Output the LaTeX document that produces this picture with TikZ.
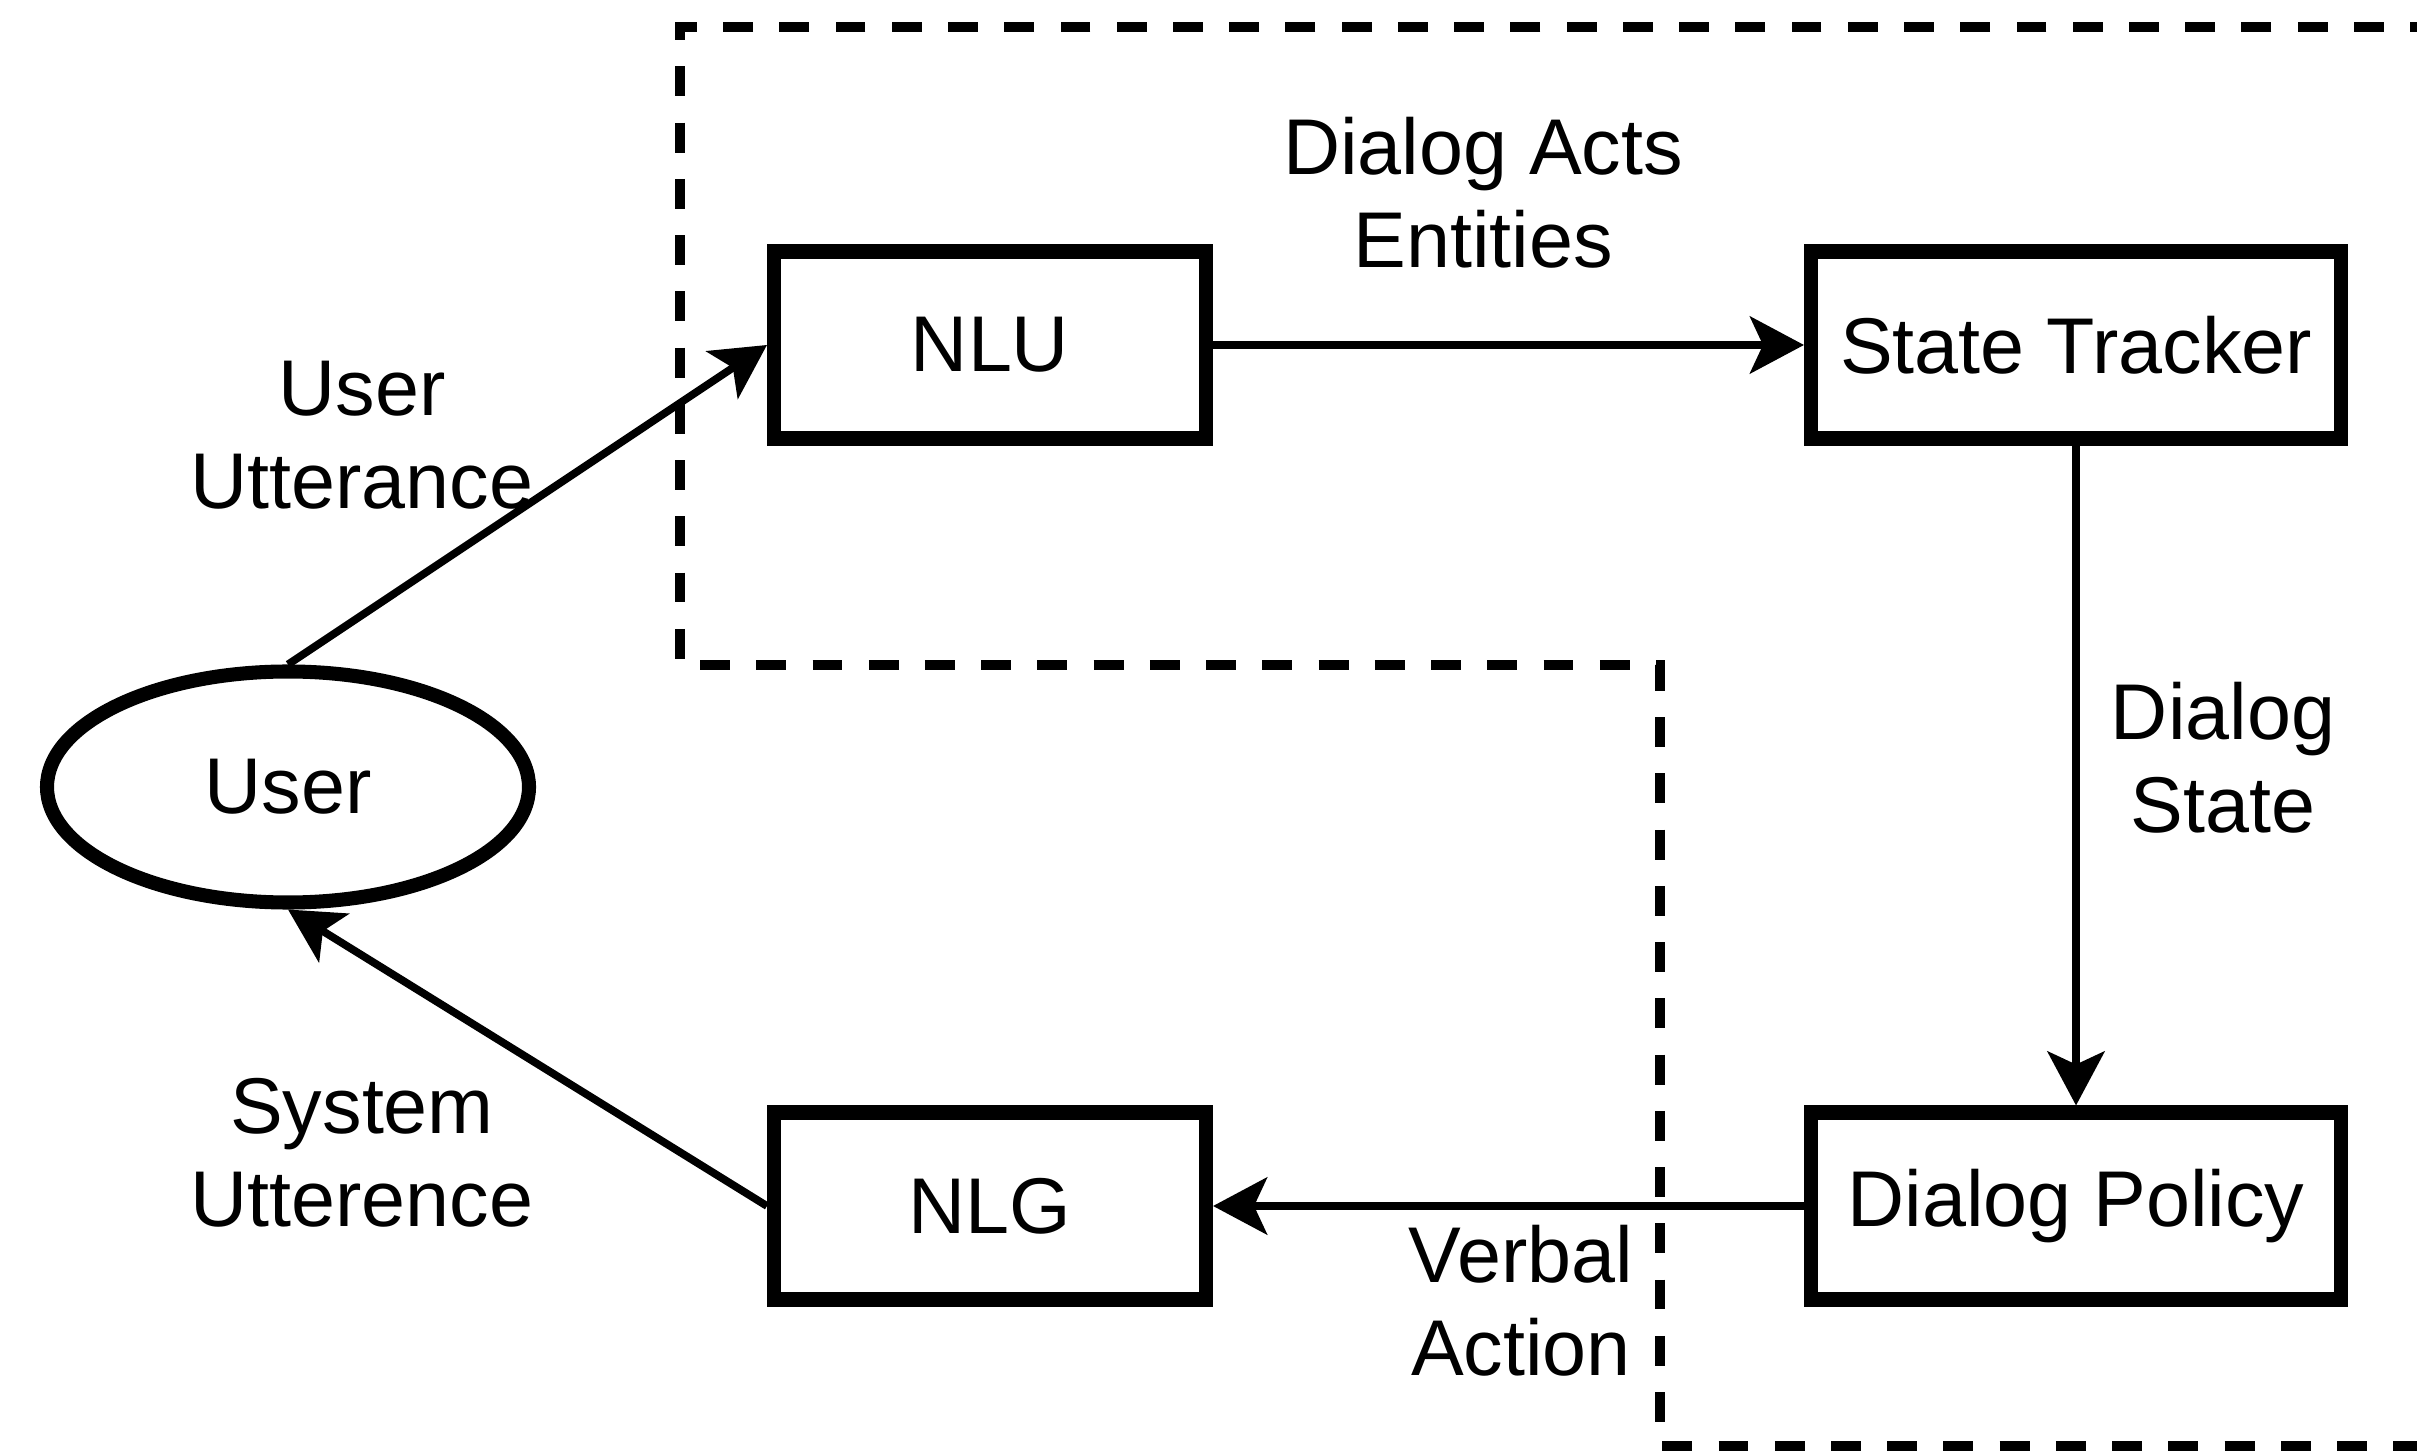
\documentclass[tikz,border=0pt]{standalone}
\usepackage{fontspec}
\setmainfont{Liberation Sans}
\usetikzlibrary{arrows.meta, positioning, shapes.geometric}

\begin{document}
\begin{tikzpicture}[
  font=\fontsize{22.5}{26.5}\selectfont,
  box/.style={draw, line width=4pt, minimum height=1.87cm, inner sep=0pt},
  conn/.style={-{Stealth[length=0.54cm, width=0.57cm, inset=0.13cm]}, line width=2.2pt},
  lbl/.style={align=center, inner sep=0pt},
  region/.style={line width=3pt, dash pattern=on 8.5pt off 7.5pt}
]
  \useasboundingbox (0,0) rectangle (24.17,-14.53);
  % system side (dashed)
  \draw[region] (24.4,-0.27) -- (6.80,-0.27) -- (6.80,-6.65) -- (16.60,-6.65) -- (16.60,-14.46) -- (24.4,-14.46);

  \node[draw, ellipse, line width=4pt, minimum width=4.82cm, minimum height=2.31cm, inner sep=0pt] (user) at (2.88,-7.87) {User};
  \node[box, minimum width=4.32cm] (nlu) at (9.90,-3.45) {NLU};
  \node[box, minimum width=5.30cm] (tracker) at (20.76,-3.45) {State Tracker};
  \node[box, minimum width=5.30cm] (policy) at (20.76,-12.06) {Dialog Policy};
  \node[box, minimum width=4.32cm] (nlg) at (9.90,-12.06) {NLG};

  \draw[conn] (user.north) -- (nlu.west);
  \draw[conn] (nlu) -- (tracker);
  \draw[conn] (tracker) -- (policy);
  \draw[conn] (policy) -- (nlg);
  \draw[conn] (nlg.west) -- (user.south);

  % labels
  \node[lbl] (acts) at (14.83,-1.93) {Dialog Acts\\Entities};
  \node[lbl] (utt) at (3.62,-4.35) {User\\Utterance};
  \node[lbl] (state) at (22.23,-7.58) {Dialog\\State};
  \node[lbl] (sysutt) at (3.62,-11.53) {System\\Utterence};
  \node[lbl] (verbal) at (15.21,-13.01) {Verbal\\Action};
\end{tikzpicture}
\end{document}
